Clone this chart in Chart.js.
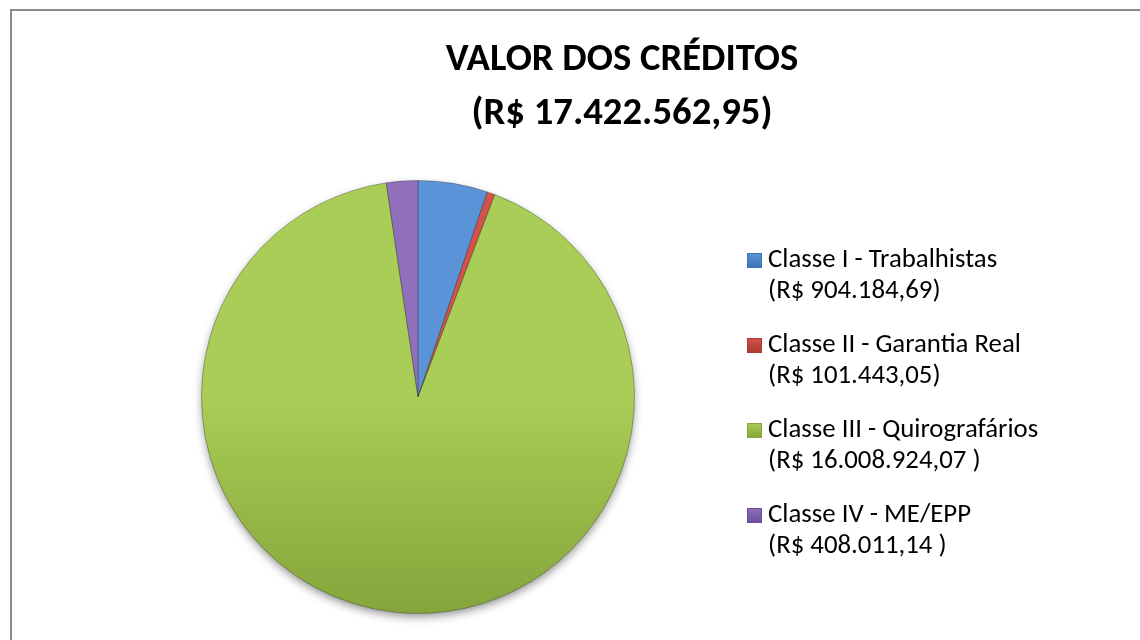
<!DOCTYPE html>
<html>
<head>
<meta charset="utf-8">
<script src="https://cdn.jsdelivr.net/npm/chart.js@4.4.0/dist/chart.umd.min.js"></script>
<style>
  html, body { margin: 0; padding: 0; background: #ffffff; }
  #wrap { position: relative; width: 1140px; height: 640px; overflow: hidden; }
  canvas { display: block; }
</style>
</head>
<body>
<div id="wrap"><canvas id="c" width="1140" height="640"></canvas></div>
<script>
const titleLines = ['VALOR DOS CRÉDITOS', '(R$ 17.422.562,95)'];
const categories = ['Classe I - Trabalhistas', 'Classe II - Garantia Real', 'Classe III - Quirografários', 'Classe IV - ME/EPP'];
const amountLabels = ['(R$ 904.184,69)', '(R$ 101.443,05)', '(R$ 16.008.924,07 )', '(R$ 408.011,14 )'];
const values = [904184.69, 101443.05, 16008924.07, 408011.14];
const colorsLight = ['#5a93d8', '#d4524c', '#a9cd56', '#9070bb'];
const colorsDark = ['#3d74b6', '#ad3833', '#84a53b', '#6c4e98'];

const FONT = "Carlito, Lato, 'Open Sans', sans-serif";

function sliceGradient(ctx, i) {
  const chart = ctx.chart;
  const area = chart.chartArea;
  if (!area) return colorsLight[i];
  const g = chart.ctx.createLinearGradient(0, area.top, 0, area.bottom);
  g.addColorStop(0, colorsLight[i]);
  g.addColorStop(0.5, colorsLight[i]);
  g.addColorStop(1, colorsDark[i]);
  return g;
}

const framePlugin = {
  id: 'frame',
  beforeDraw(chart) {
    const c = chart.ctx;
    c.save();
    c.fillStyle = '#ffffff';
    c.fillRect(0, 0, chart.width, chart.height);
    c.strokeStyle = '#8a8a8a';
    c.lineWidth = 2;
    c.beginPath();
    c.moveTo(11, chart.height + 5);
    c.lineTo(11, 10);
    c.lineTo(chart.width + 5, 10);
    c.stroke();
    c.restore();
  }
};

const shadowPlugin = {
  id: 'pieShadow',
  beforeDatasetsDraw(chart) {
    const meta = chart.getDatasetMeta(0);
    const arc = meta.data[0];
    if (!arc) return;
    const c = chart.ctx;
    c.save();
    c.shadowColor = 'rgba(0,0,0,0.45)';
    c.shadowBlur = 10;
    c.shadowOffsetY = 4;
    c.fillStyle = '#86a83c';
    c.beginPath();
    c.arc(arc.x, arc.y, arc.outerRadius - 1, 0, Math.PI * 2);
    c.fill();
    c.restore();
  }
};

const textPlugin = {
  id: 'texts',
  afterDraw(chart) {
    const c = chart.ctx;
    c.save();
    c.fillStyle = '#000000';
    c.textAlign = 'center';
    c.textBaseline = 'alphabetic';
    c.font = "bold 38.7px " + FONT;
    c.fillText(titleLines[0], 622, 70);
    c.fillText(titleLines[1], 622, 124);

    c.textAlign = 'left';
    c.font = "26.8px " + FONT;
    for (let i = 0; i < categories.length; i++) {
      const base = 267 + 85 * i;
      const mx = 747, my = base - 14, ms = 15;
      const g = c.createLinearGradient(0, my, 0, my + ms);
      g.addColorStop(0, colorsLight[i]);
      g.addColorStop(1, colorsDark[i]);
      c.fillStyle = g;
      c.fillRect(mx, my, ms, ms);
      c.strokeStyle = colorsDark[i];
      c.lineWidth = 1;
      c.strokeRect(mx + 0.5, my + 0.5, ms - 1, ms - 1);
      c.fillStyle = '#000000';
      c.fillText(categories[i], 768, base);
      c.fillText(amountLabels[i], 768, base + 31);
    }
    c.restore();
  }
};

new Chart(document.getElementById('c'), {
  type: 'pie',
  data: {
    labels: categories,
    datasets: [{
      data: values,
      backgroundColor: (ctx) => sliceGradient(ctx, ctx.dataIndex),
      borderColor: 'rgba(40,40,40,0.35)',
      borderWidth: 1,
      hoverOffset: 0
    }]
  },
  options: {
    responsive: false,
    animation: false,
    layout: { padding: { left: 201, right: 505, top: 180, bottom: 26 } },
    plugins: {
      legend: { display: false },
      title: { display: false },
      tooltip: { enabled: false }
    }
  },
  plugins: [framePlugin, shadowPlugin, textPlugin]
});
</script>
</body>
</html>
